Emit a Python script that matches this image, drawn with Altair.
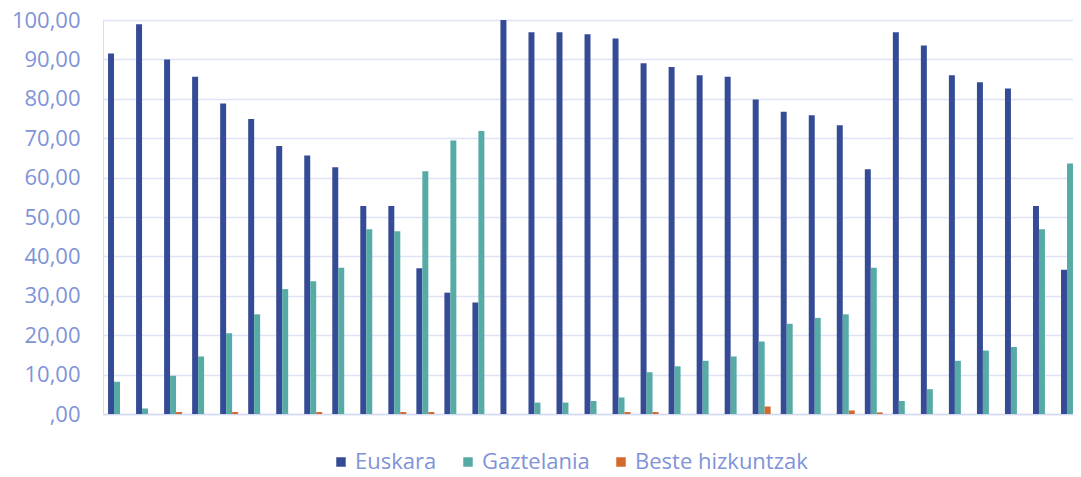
import altair as alt
import pandas as pd

groups = [str(i) for i in range(1, 36)]
languages = ["Euskara", "Gaztelania", "Beste hizkuntzak"]
colors = ["#364b96", "#56aba6", "#d4692c"]

euskara = [91.5, 98.9, 90.0, 85.6, 78.8, 74.9, 68.0, 65.6, 62.6, 52.8,
           52.8, 37.0, 30.8, 28.3, 100.0, 96.9, 96.9, 96.4, 95.3, 89.0,
           88.1, 86.0, 85.6, 79.8, 76.7, 75.8, 73.3, 62.1, 96.9, 93.5,
           86.0, 84.2, 82.6, 52.8, 36.6]
gaztelania = [8.2, 1.4, 9.7, 14.6, 20.5, 25.3, 31.7, 33.7, 37.1, 46.9,
              46.4, 61.6, 69.4, 71.8, 0.0, 2.9, 2.9, 3.3, 4.2, 10.6,
              12.1, 13.5, 14.6, 18.4, 22.9, 24.4, 25.3, 37.1, 3.3, 6.3,
              13.5, 16.1, 17.0, 46.9, 63.6]
beste = [0.0, 0.0, 0.5, 0.0, 0.5, 0.0, 0.0, 0.5, 0.0, 0.0,
         0.5, 0.5, 0.0, 0.0, 0.0, 0.0, 0.0, 0.0, 0.5, 0.5,
         0.0, 0.0, 0.0, 1.9, 0.0, 0.0, 0.9, 0.4, 0.0, 0.0,
         0.0, 0.0, 0.0, 0.0, 0.0]
y_ticks = [0, 10, 20, 30, 40, 50, 60, 70, 80, 90, 100]

rows = []
for i, g in enumerate(groups):
    for lang, series in zip(languages, [euskara, gaztelania, beste]):
        rows.append({"group": g, "lang": lang, "value": series[i]})
df = pd.DataFrame(rows)

label_color = "#8093d8"
font = "Open Sans"

chart = alt.Chart(df).mark_bar().encode(
    x=alt.X("group:N", sort=groups,
            scale=alt.Scale(paddingInner=0.36, paddingOuter=0.18, range=[0, 981]),
            axis=alt.Axis(title=None, labels=False, ticks=False, grid=False,
                          domain=True, domainColor="#d3d9f0", domainWidth=1.5)),
    xOffset=alt.XOffset("lang:N", sort=languages),
    y=alt.Y("value:Q",
            scale=alt.Scale(domain=[0, 100], nice=False),
            axis=alt.Axis(title=None, values=y_ticks, ticks=False, domain=False,
                          grid=True, gridColor="#dfe3f6", gridWidth=1.5,
                          labelFont=font, labelFontSize=22, labelColor=label_color,
                          labelPadding=23,
                          labelExpr="datum.value == 0 ? ',00' : replace(format(datum.value, '.2f'), '.', ',')")),
    color=alt.Color("lang:N", sort=languages,
                    scale=alt.Scale(domain=languages, range=colors),
                    legend=alt.Legend(title=None, orient="none", direction="horizontal",
                                      legendX=227, legendY=431,
                                      symbolType="square", symbolSize=90,
                                      symbolStrokeWidth=0,
                                      labelFont=font, labelFontSize=22,
                                      labelColor=label_color, labelOffset=3,
                                      labelLimit=400,
                                      columnPadding=20, padding=0)),
).properties(
    width=970,
    height=394,
    autosize=alt.AutoSizeParams(type="none"),
    padding={"left": 95, "top": 12, "right": 0, "bottom": 55},
).configure_view(
    stroke=None
).configure(
    background="white"
)

chart.save("out.html", embed_options={"renderer": "svg", "actions": False})
